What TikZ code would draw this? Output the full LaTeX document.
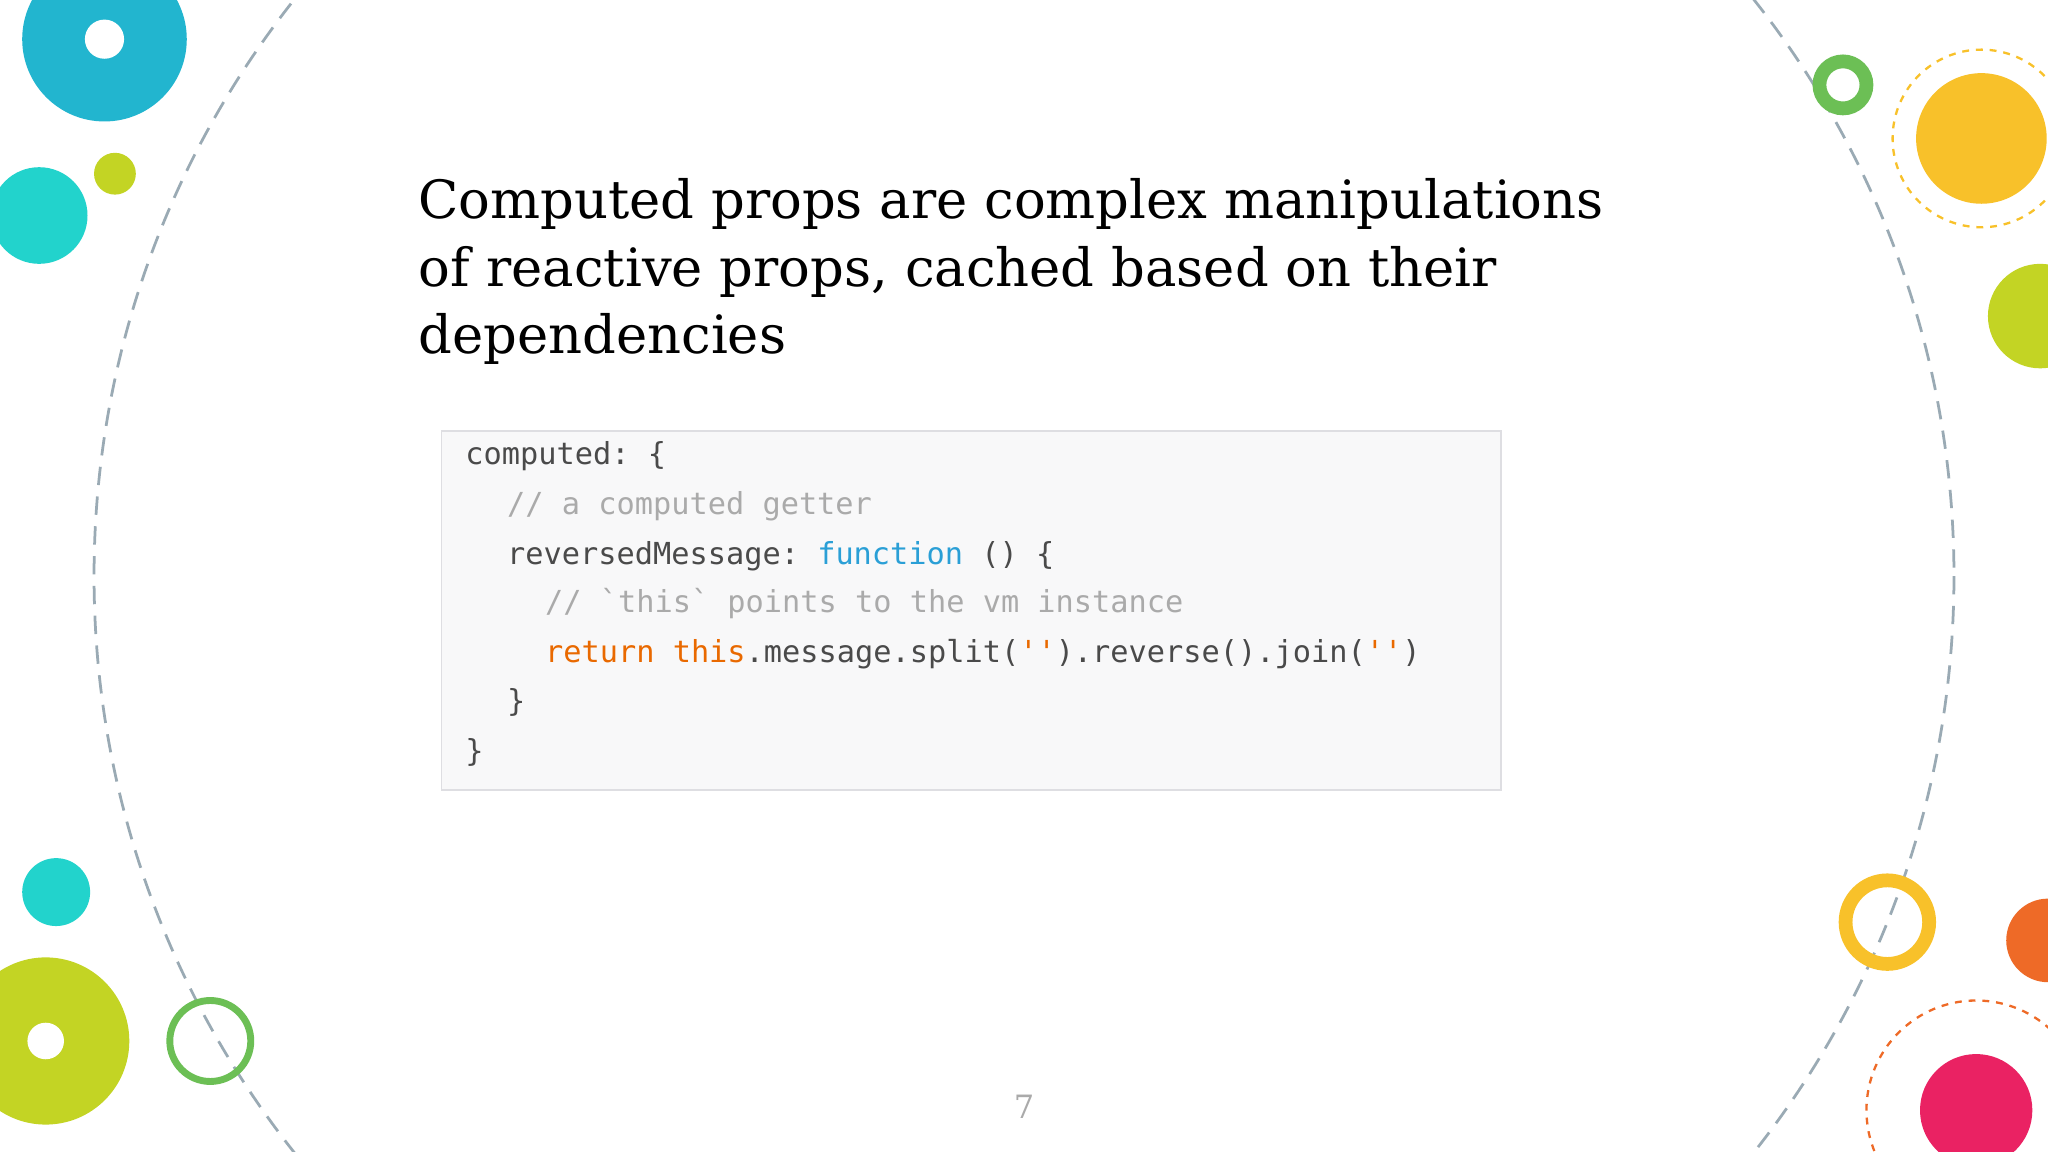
\documentclass[tikz,border=0pt]{standalone}
\usepackage{fontspec}
\setmainfont{DejaVu Serif}
\setmonofont{DejaVu Sans Mono}
\definecolor{teal1}{HTML}{22B5CF}
\definecolor{cyan1}{HTML}{22D3CC}
\definecolor{lime1}{HTML}{C3D424}
\definecolor{green1}{HTML}{6CBF55}
\definecolor{yel1}{HTML}{F8C12A}
\definecolor{orng}{HTML}{EE6A27}
\definecolor{pink1}{HTML}{EA2263}
\definecolor{dashc}{HTML}{9AAAB4}
\definecolor{cmt}{HTML}{AAAAAA}
\definecolor{fnc}{HTML}{2A9FD6}
\definecolor{kw}{HTML}{E96900}
\definecolor{codetx}{HTML}{4A4A4A}
\tikzset{title/.style={anchor=base west,inner sep=0,font=\fontsize{23}{28}\selectfont},
code/.style={anchor=base west,inner sep=0,text=codetx,font=\ttfamily\fontsize{13.2}{16}\selectfont}}
\begin{document}
\begin{tikzpicture}[x=0.02cm,y=-0.02cm]
\useasboundingbox (0,0) rectangle (1568,882);
\fill[white] (0,0) rectangle (1568,882);
\draw[dashc,dashed,line width=1.2pt,dash pattern=on 8pt off 5pt] (784,441) circle (712);
% left decorations
\fill[teal1] (80,30) circle (63); \fill[white] (80,30) circle (15);
\fill[cyan1] (30,165) circle (37);
\fill[lime1] (88,133) circle (16);
\fill[cyan1] (43,683) circle (26);
\fill[lime1] (35,797) circle (64); \fill[white] (35,797) circle (14);
\draw[green1,line width=3pt] (161,797) circle (31);
% right decorations
\draw[green1,line width=6pt] (1411,65) circle (18);
\fill[yel1] (1517,106) circle (50);
\draw[yel1,dashed,line width=1pt] (1517,106) circle (68);
\fill[lime1] (1562,242) circle (40);
\draw[yel1,line width=6pt] (1445,706) circle (32);
\fill[orng] (1568,720) circle (32);
\fill[pink1] (1513,850) circle (43);
\draw[orng,dashed,line width=1pt] (1513,850) circle (84);
% title
\node[title] (t1) at (320,167) {Computed props are complex manipulations};
\node[title] (t2) at (320,219) {of reactive props, cached based on their};
\node[title] (t3) at (320,271) {dependencies};
% code box
\draw[fill={rgb,255:red,248;green,248;blue,249},draw={rgb,255:red,222;green,222;blue,226},line width=0.8pt] (338,330) rectangle (1149,605);
\node[code] (c1) at (356,356) {computed: \{};
\node[code,text=cmt] (c2) at (388,394) {// a computed getter};
\node[code] (c3) at (388,432) {reversedMessage: \textcolor{fnc}{function} () \{};
\node[code,text=cmt] (c4) at (417,469) {// `this` points to the vm instance};
\node[code] (c5) at (417,507) {\textcolor{kw}{return this}.message.split(\textcolor{kw}{''}).reverse().join(\textcolor{kw}{''})};
\node[code] (c6) at (388,545) {\}};
\node[code] (c7) at (356,583) {\}};
\node[text=cmt,font=\fontsize{14}{16}\selectfont] (pg) at (784,847) {7};
\end{tikzpicture}
\end{document}
